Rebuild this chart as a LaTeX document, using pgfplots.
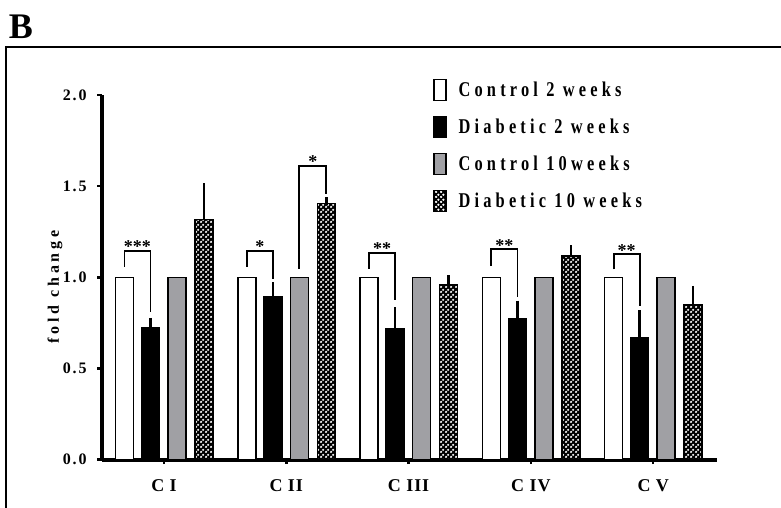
\documentclass[border=0pt]{standalone}
\usepackage{fontspec}
\setmainfont{Liberation Serif}
\newfontfamily\legfont[FakeStretch=0.78,LetterSpace=20]{Liberation Serif}
\newfontfamily\ytfont[LetterSpace=12]{Liberation Serif}
\newfontfamily\xtfont[LetterSpace=5]{Liberation Serif}
\newfontfamily\labfont[LetterSpace=24]{Liberation Serif}
\usepackage{pgfplots}
\pgfplotsset{compat=1.18}
\usetikzlibrary{patterns}
\pgfdeclarepatternformonly{wdots}{\pgfqpoint{0pt}{0pt}}{\pgfqpoint{5pt}{5pt}}{\pgfqpoint{5pt}{5pt}}{%
  \pgfpathcircle{\pgfqpoint{1.25pt}{1.25pt}}{1.45pt}%
  \pgfpathcircle{\pgfqpoint{3.75pt}{3.75pt}}{1.45pt}%
  \pgfusepath{fill}%
}
\definecolor{bargray}{RGB}{160,160,164}
\begin{document}
\begin{tikzpicture}
\useasboundingbox (0pt,0pt) rectangle (781pt,507pt);
\draw[line width=2pt] (6pt,-5pt) -- (6pt,460pt) -- (790pt,460pt);
\node[font=\fontsize{36}{36}\selectfont\bfseries] at (21pt,480pt) {B};
\begin{axis}[
  at={(101.7pt,47.3pt)}, anchor=south west,
  scale only axis, width=615.3pt, height=364.7pt,
  xmin=-0.509, xmax=4.5216, ymin=0, ymax=2,
  axis x line*=bottom, axis y line*=left,
  axis line style={line width=4pt, -},
  ybar, bar width=18pt,
  legend image code/.code={\draw[#1] (0pt,-10.5pt) rectangle (12pt,10.5pt);},
  xtick={0,1,2,3,4},
  xticklabels={C I, C II, C III, C IV, C V},
  ytick={0,0.5,1,1.5,2},
  yticklabels={0.0,0.5,1.0,1.5,2.0},
  tick align=outside,
  major tick length=4.5pt,
  tick style={line width=2.5pt, black},
  xticklabel style={font=\fontsize{18}{18}\xtfont\bfseries, yshift=-12pt},
  yticklabel style={font=\fontsize{16}{16}\ytfont\bfseries, xshift=-7pt},
  legend style={at={(axis description cs:0.5385,1.044)}, anchor=north west, draw=none, fill=none, inner sep=0pt, outer sep=0pt, row sep=14.5pt, column sep=12pt, nodes={inner sep=0pt}, font=\fontsize{21}{21}\legfont\bfseries},
  legend cell align=left,
  error bars/y dir=plus, error bars/y explicit,
  error bars/error bar style={line width=2.5pt, black},
  error bars/error mark options={line width=2.5pt, mark size=4pt, black, rotate=0},
  clip=false,
]
\addplot[fill=white, draw=black, line width=1.5pt, bar shift=-39.5pt] coordinates {(0,1) (1,1) (2,1) (3,1) (4,1)};
\addlegendentry{Control 2 weeks}
\addplot[fill=black, draw=black, line width=1.5pt, bar shift=-13.5pt] coordinates {(0,0.724) +- (0,0.032) (1,0.894) +- (0,0.056) (2,0.717) +- (0,0.096) (3,0.775) +- (0,0.075) (4,0.671) +- (0,0.127)};
\addlegendentry{Diabetic 2 weeks}
\addplot[fill=bargray, draw=black, line width=1.5pt, bar shift=13pt] coordinates {(0,1) (1,1) (2,1) (3,1) (4,1)};
\addlegendentry{Control 10weeks}
\addplot[fill=black, draw=black, line width=1.5pt, bar shift=40pt, postaction={pattern=wdots, pattern color=white}] coordinates {(0,1.318) +- (0,0.175) (1,1.406) +- (0,0.012) (2,0.958) +- (0,0.032) (3,1.117) +- (0,0.038) (4,0.848) +- (0,0.084)};
\addlegendentry{Diabetic 10 weeks}
% significance brackets
\draw[line width=1.8pt] (axis cs:-0.323,1.058) -- (axis cs:-0.323,1.146) -- (axis cs:-0.110,1.146) -- (axis cs:-0.110,0.812);
\node[anchor=base, inner sep=0pt, yshift=-2pt, font=\fontsize{18}{18}\selectfont\bfseries] at (axis cs:-0.2165,1.146) {***};
\draw[line width=1.8pt] (axis cs:0.677,1.057) -- (axis cs:0.677,1.146) -- (axis cs:0.890,1.146) -- (axis cs:0.890,0.991);
\node[anchor=base, inner sep=0pt, yshift=-2pt, font=\fontsize{18}{18}\selectfont\bfseries] at (axis cs:0.7835,1.146) {*};
\draw[line width=1.8pt] (axis cs:1.106,1.046) -- (axis cs:1.106,1.612) -- (axis cs:1.327,1.612) -- (axis cs:1.327,1.457);
\node[anchor=base, inner sep=0pt, yshift=-2pt, font=\fontsize{18}{18}\selectfont\bfseries] at (axis cs:1.2165,1.612) {*};
\draw[line width=1.8pt] (axis cs:1.677,1.046) -- (axis cs:1.677,1.135) -- (axis cs:1.890,1.135) -- (axis cs:1.890,0.876);
\node[anchor=base, inner sep=0pt, yshift=-2pt, font=\fontsize{18}{18}\selectfont\bfseries] at (axis cs:1.7835,1.135) {**};
\draw[line width=1.8pt] (axis cs:2.677,1.062) -- (axis cs:2.677,1.154) -- (axis cs:2.890,1.154) -- (axis cs:2.890,0.894);
\node[anchor=base, inner sep=0pt, yshift=-2pt, font=\fontsize{18}{18}\selectfont\bfseries] at (axis cs:2.7835,1.154) {**};
\draw[line width=1.8pt] (axis cs:3.677,1.044) -- (axis cs:3.677,1.128) -- (axis cs:3.890,1.128) -- (axis cs:3.890,0.843);
\node[anchor=base, inner sep=0pt, yshift=-2pt, font=\fontsize{18}{18}\selectfont\bfseries] at (axis cs:3.7835,1.128) {**};
\end{axis}
\node[rotate=90, font=\fontsize{16}{16}\labfont\bfseries] at (55pt,220pt) {fold change};
\end{tikzpicture}
\end{document}
